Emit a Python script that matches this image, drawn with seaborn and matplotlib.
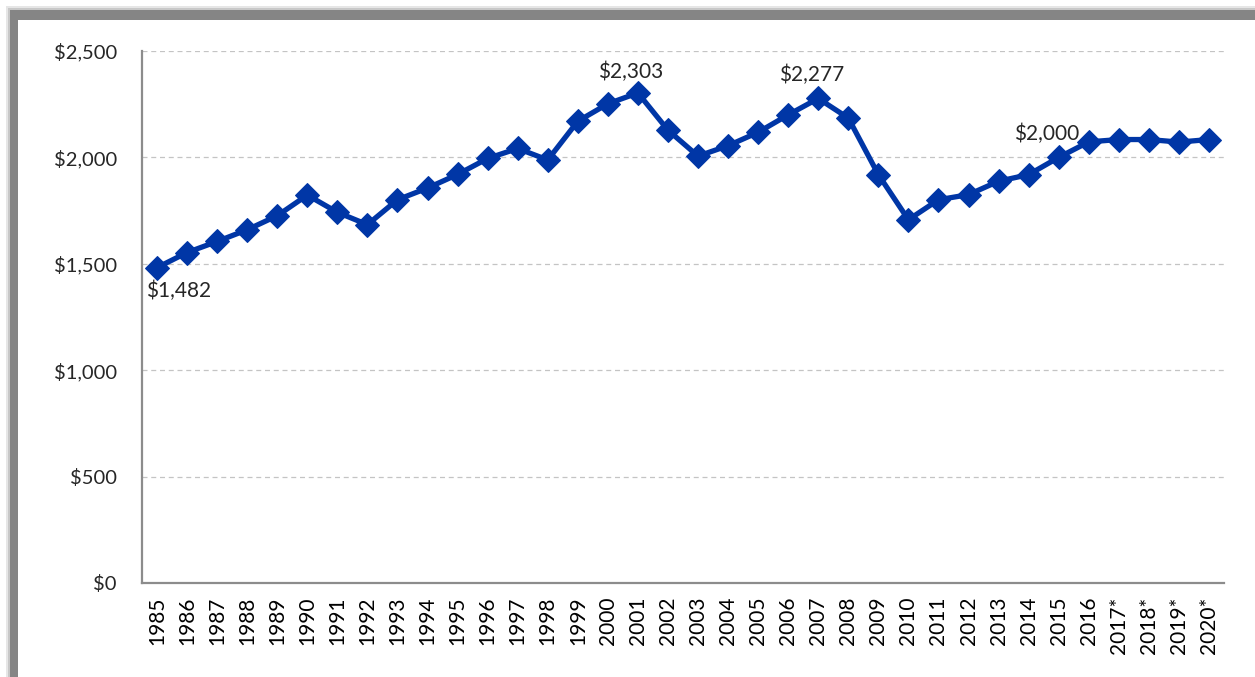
import numpy as np
import pandas as pd
import seaborn as sns
import matplotlib.pyplot as plt
from matplotlib.patches import Rectangle
from matplotlib.ticker import FuncFormatter, MultipleLocator

years = ['1985', '1986', '1987', '1988', '1989', '1990', '1991', '1992', '1993', '1994',
         '1995', '1996', '1997', '1998', '1999', '2000', '2001', '2002', '2003', '2004',
         '2005', '2006', '2007', '2008', '2009', '2010', '2011', '2012', '2013', '2014',
         '2015', '2016', '2017*', '2018*', '2019*', '2020*']
values = [1482, 1553, 1605, 1660, 1726, 1823, 1742, 1684, 1801, 1856,
          1920, 1995, 2042, 1988, 2170, 2252, 2303, 2128, 2006, 2055,
          2118, 2200, 2277, 2185, 1919, 1707, 1801, 1825, 1888, 1919,
          2000, 2073, 2084, 2084, 2072, 2084]
labelled = {'1985': '$1,482', '2001': '$2,303', '2007': '$2,277', '2015': '$2,000'}
# label offsets in points (dx, dy) and horizontal alignment
label_pos = {'1985': (-8, -17, 'left'), '2001': (-5, 15, 'center'),
             '2007': (-4.5, 17, 'center'), '2015': (-9, 17, 'center')}

sns.set_style('white')
plt.rcParams['font.family'] = ['Lato', 'DejaVu Sans']

blue = '#0036A6'
axis_gray = '#8c8c8c'

df = pd.DataFrame({'pos': np.arange(len(years)), 'year': years, 'value': values})

fig = plt.figure(figsize=(12.55, 6.77), dpi=100)
fig.patch.set_facecolor('white')

# gray frame with soft shadow on top/left (drawn behind the axes)
W, H = 1255, 677
for off, col in [(4, '#e6e6e6'), (2, '#c8c8c8')]:
    fig.patches.append(Rectangle(((10 - off) / W, -0.1), 1.2, (H - 10 + off) / H + 0.1,
                                 transform=fig.transFigure, facecolor=col, edgecolor='none', zorder=-3))
fig.patches.append(Rectangle((10 / W, -0.1), 1.2, (H - 10) / H + 0.1,
                             transform=fig.transFigure, facecolor='#858585', edgecolor='none', zorder=-2))
fig.patches.append(Rectangle((18 / W, -0.1), 1.2, (H - 20) / H + 0.1,
                             transform=fig.transFigure, facecolor='white', edgecolor='none', zorder=-1))

ax = fig.add_axes([142 / W, 1 - 583 / H, (1224 - 142) / W, (583 - 51) / H])
ax.set_facecolor('none')

sns.lineplot(data=df, x='pos', y='value', ax=ax, color=blue, linewidth=3.8,
             marker='D', markersize=12.5, markeredgecolor=blue, zorder=5)

ax.set_xlim(-0.5, len(years) - 0.5)
ax.set_ylim(0, 2500)
ax.yaxis.set_major_locator(MultipleLocator(500))
ax.yaxis.set_major_formatter(FuncFormatter(lambda v, p: '${:,.0f}'.format(v)))
ax.grid(axis='y', color='#c4c4c4', linestyle=(0, (4, 3)), linewidth=0.9)
ax.set_axisbelow(True)

ax.set_xticks(df['pos'])
ax.set_xticklabels(years, rotation=90)
ax.set_xticks(np.arange(-0.5, len(years), 1.0), minor=True)
ax.tick_params(axis='x', which='major', length=0, pad=10, labelsize=15, colors='black')
ax.tick_params(axis='x', which='minor', length=6, width=1.2, color=axis_gray)
ax.tick_params(axis='y', which='major', length=6, width=1.2, color=axis_gray, labelsize=14.5, pad=12)

for s in ['top', 'right']:
    ax.spines[s].set_visible(False)
for s in ['left', 'bottom']:
    ax.spines[s].set_color(axis_gray)
    ax.spines[s].set_linewidth(1.6)

ax.set_xlabel('')
ax.set_ylabel('')

for i, (yr, v) in enumerate(zip(years, values)):
    if yr not in labelled:
        continue
    dx, dy, ha = label_pos[yr]
    ax.annotate(labelled[yr], (i, v), xytext=(dx, dy), textcoords='offset points',
                ha=ha, va='center', fontsize=15)

fig.savefig('out.png', dpi=100)
